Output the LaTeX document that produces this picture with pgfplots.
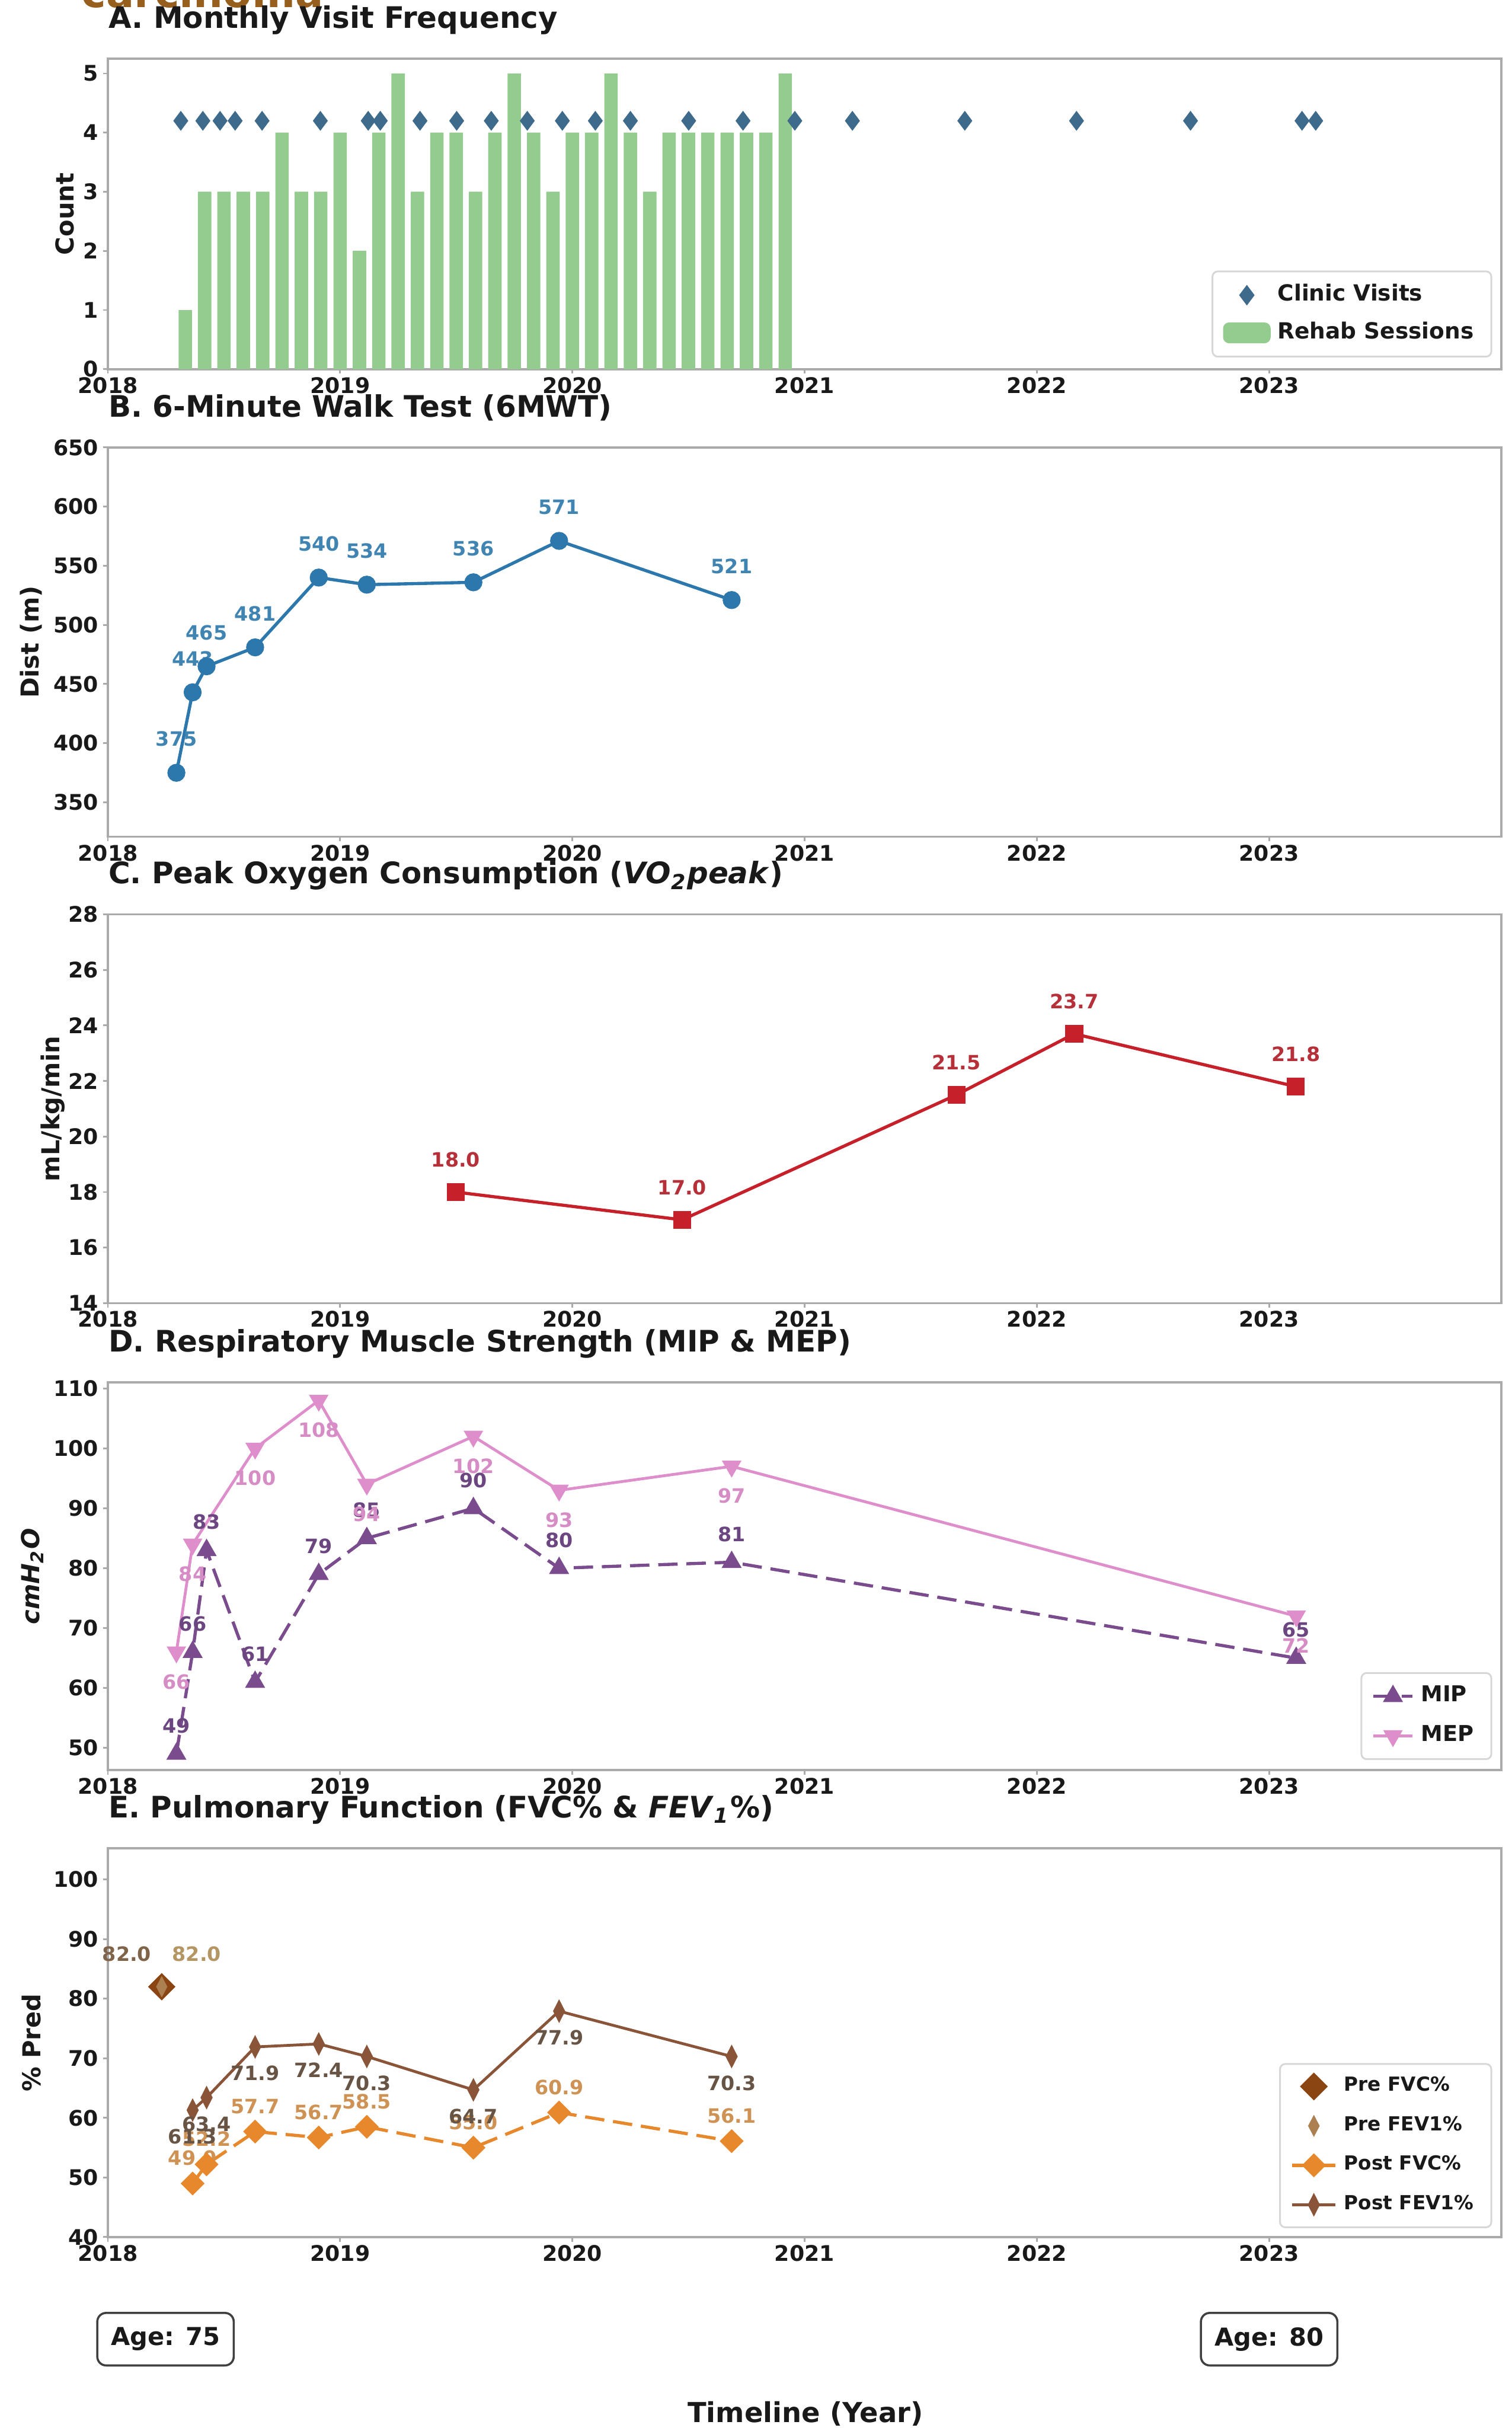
\documentclass[border=0pt]{standalone}
\usepackage{fontspec}
\setmainfont{DejaVu Sans}
\usepackage{pgfplots}
\pgfplotsset{compat=1.18}

\definecolor{spinegray}{RGB}{170,170,170}
\definecolor{legendgray}{RGB}{215,215,215}
\definecolor{inkdark}{RGB}{25,25,25}
\definecolor{headbrown}{RGB}{150,95,30}
\definecolor{barGreen}{RGB}{148,203,142}
\definecolor{visitBlue}{RGB}{62,106,140}
\definecolor{walkBlue}{RGB}{44,120,172}
\definecolor{walkLab}{RGB}{64,132,178}
\definecolor{vo2Red}{RGB}{198,32,42}
\definecolor{vo2Lab}{RGB}{182,48,58}
\definecolor{mipPurple}{RGB}{122,76,142}
\definecolor{mipLab}{RGB}{108,70,128}
\definecolor{mepPink}{RGB}{222,142,202}
\definecolor{mepLab}{RGB}{214,140,196}
\definecolor{preFVC}{RGB}{139,69,19}
\definecolor{preFEV}{RGB}{172,128,80}
\definecolor{preFVCLab}{RGB}{128,100,74}
\definecolor{preFEVLab}{RGB}{180,150,100}
\definecolor{postFVC}{RGB}{232,136,44}
\definecolor{postFVCLab}{RGB}{206,146,84}
\definecolor{postFEV}{RGB}{138,84,56}
\definecolor{postFEVLab}{RGB}{104,84,68}

\newcommand{\ticksize}{\bfseries\fontsize{6.1}{7}\selectfont}
\newcommand{\titlesize}{\bfseries\fontsize{8.4}{10}\selectfont}
\newcommand{\labelsize}{\bfseries\fontsize{7}{8.4}\selectfont}
\newcommand{\valsize}{\bfseries\fontsize{5.6}{6.7}\selectfont}

\pgfplotsset{
  /pgf/number format/assume math mode=true,
  /pgf/number format/1000 sep={},
  panel/.style={
    scale only axis, width=395.25pt,
    xmin=2018, xmax=2024, xtick={2018,2019,2020,2021,2022,2023},
    axis line style={draw=spinegray, line width=0.6pt},
    tick pos=left, tick align=outside, major tick length=1.3pt,
    tick style={draw=spinegray, line width=0.5pt},
    tick label style={font=\ticksize, text=inkdark},
    xticklabel style={inner sep=0.8pt},
    yticklabel style={inner sep=1.2pt},
    title style={at={(0,1)}, anchor=base west, yshift=2.7pt, inner sep=0pt,
                 font=\titlesize, text=inkdark},
    label style={font=\labelsize, text=inkdark},
    clip=false,
    legend cell align=left,
  },
  ylabelat/.style={ylabel style={at={([xshift=-#1]axis description cs:0,0.5)}, anchor=center}},
  legimg/.style={legend image code/.code={%
      \draw[mark repeat=2,mark phase=2,##1] plot coordinates {(0pt,0pt) (#1/2,0pt) (#1,0pt)};}},
  legbox/.style={legend style={draw=legendgray, line width=0.5pt, rounded corners=1.5pt,
      fill=white, text=inkdark, inner xsep=3pt, inner ysep=1.6pt}},
  lababove/.style={
      every node near coord/.append style={anchor=south, yshift=#1, inner sep=0pt, font=\valsize}},
  labbelow/.style={
      every node near coord/.append style={anchor=north, yshift=-#1, inner sep=0pt, font=\valsize}},
  int/.style={nodes near coords={\pgfmathprintnumber[fixed,precision=0]{\pgfplotspointmeta}}},
  dec/.style={nodes near coords={\pgfmathprintnumber[fixed,fixed zerofill,precision=1]{\pgfplotspointmeta}}},
}

\begin{document}
\begin{tikzpicture}

% cut-off heading above the panels
\node[anchor=base west, inner sep=0pt, text=headbrown,
      font=\bfseries\fontsize{11.8}{14}\selectfont] at (22.95pt,-2.1pt) {carcinoma};

% ---------------- A. Monthly visit frequency ----------------
\begin{axis}[panel, at={(30.6pt,-16.65pt)}, anchor=north west, height=88.05pt,
  ymin=0, ymax=5.25, ytick={0,1,2,3,4,5},
  title={A. Monthly Visit Frequency},
  ylabel={Count}, ylabelat=12.3pt,
  legbox,
  legend style={at={(0.9935,0.0375)}, anchor=south east,
    font=\bfseries\fontsize{6.3}{7.6}\selectfont, row sep=0.4pt}]
\addplot[ybar, bar width=3.8pt, bar shift=0pt, fill=barGreen, draw=none, forget plot]
  coordinates {
  (2018.3333,1) (2018.4167,3) (2018.5,3) (2018.5833,3) (2018.6667,3) (2018.75,4)
  (2018.8333,3) (2018.9167,3)
  (2019.0,4) (2019.0833,2) (2019.1667,4) (2019.25,5) (2019.3333,3) (2019.4167,4)
  (2019.5,4) (2019.5833,3) (2019.6667,4) (2019.75,5) (2019.8333,4) (2019.9167,3)
  (2020.0,4) (2020.0833,4) (2020.1667,5) (2020.25,4) (2020.3333,3) (2020.4167,4)
  (2020.5,4) (2020.5833,4) (2020.6667,4) (2020.75,4) (2020.8333,4) (2020.9167,5)};
\addplot[only marks, mark=diamond*, mark size=2.5pt, visitBlue, legimg=13pt]
  coordinates {
  (2018.314,4.2) (2018.409,4.2) (2018.483,4.2) (2018.548,4.2) (2018.664,4.2)
  (2018.915,4.2) (2019.121,4.2) (2019.173,4.2) (2019.344,4.2) (2019.502,4.2)
  (2019.651,4.2) (2019.806,4.2) (2019.957,4.2) (2020.099,4.2) (2020.250,4.2)
  (2020.501,4.2) (2020.735,4.2) (2020.958,4.2) (2021.206,4.2) (2021.690,4.2)
  (2022.171,4.2) (2022.662,4.2) (2023.142,4.2) (2023.201,4.2)};
\addlegendentry{Clinic Visits}
\addlegendimage{legend image code/.code={\fill[barGreen] (0pt,-2.7pt) rectangle (13pt,2.7pt);}}
\addlegendentry{Rehab Sessions}
\end{axis}

% ---------------- B. 6-minute walk test ----------------
\begin{axis}[panel, at={(30.6pt,-126.9pt)}, anchor=north west, height=110.4pt,
  ymin=321, ymax=650, ytick={350,400,...,650},
  title={B. 6-Minute Walk Test (6MWT)},
  ylabel={Dist (m)}, ylabelat=21.75pt]
\addplot[walkBlue, line width=0.9pt, mark=*, mark size=2.1pt,
  int, lababove=7pt, every node near coord/.append style={text=walkLab}]
  coordinates {(2018.295,375) (2018.365,443) (2018.425,465) (2018.634,481)
  (2018.908,540) (2019.115,534) (2019.574,536) (2019.943,571) (2020.686,521)};
\end{axis}

% ---------------- C. Peak oxygen consumption ----------------
\begin{axis}[panel, at={(30.6pt,-259.35pt)}, anchor=north west, height=110.25pt,
  ymin=14, ymax=28, ytick={14,16,...,28},
  title={C. Peak Oxygen Consumption (\textit{VO}\textsubscript{\textit{2}}\textit{peak})},
  ylabel={mL/kg/min}, ylabelat=15.6pt]
\addplot[vo2Red, line width=0.9pt, mark=square*, mark size=2.1pt,
  dec, lababove=6.6pt, every node near coord/.append style={text=vo2Lab}]
  coordinates {(2019.498,18.0) (2020.473,17.0) (2021.654,21.5) (2022.161,23.7) (2023.115,21.8)};
\end{axis}

% ---------------- D. Respiratory muscle strength ----------------
\begin{axis}[panel, at={(30.6pt,-392.1pt)}, anchor=north west, height=109.95pt,
  ymin=46.3, ymax=111, ytick={50,60,...,110},
  title={D. Respiratory Muscle Strength (MIP \& MEP)},
  ylabel={\textit{cmH\textsubscript{2}O}}, ylabelat=21.45pt,
  legbox,
  legend style={at={(0.9935,0.026)}, anchor=south east,
    font=\bfseries\fontsize{6.2}{7.4}\selectfont, row sep=1.2pt}]
\addplot[mipPurple, line width=0.9pt, dash pattern=on 5.5pt off 2.5pt,
  mark=triangle*, mark size=2.4pt, mark options={solid}, legimg=11pt,
  int, lababove=5.4pt, every node near coord/.append style={text=mipLab}]
  coordinates {(2018.295,49) (2018.365,66) (2018.425,83) (2018.634,61) (2018.908,79)
  (2019.115,85) (2019.574,90) (2019.943,80) (2020.686,81) (2023.117,65)};
\addlegendentry{MIP}
\addplot[mepPink, line width=0.8pt,
  mark=triangle*, mark size=2.4pt, mark options={rotate=180}, legimg=11pt,
  int, labbelow=5.9pt, every node near coord/.append style={text=mepLab}]
  coordinates {(2018.295,66) (2018.365,84) (2018.634,100) (2018.908,108)
  (2019.115,94) (2019.574,102) (2019.943,93) (2020.686,97) (2023.117,72)};
\addlegendentry{MEP}
\end{axis}

% ---------------- E. Pulmonary function ----------------
\begin{axis}[panel, at={(30.6pt,-524.25pt)}, anchor=north west, height=110.25pt,
  ymin=40, ymax=105.2, ytick={40,50,...,100},
  title={E. Pulmonary Function (FVC\% \& \textit{FEV}\textsubscript{\textit{1}}\%)},
  ylabel={\% Pred}, ylabelat=21.75pt,
  legbox,
  legend style={at={(0.9935,0.023)}, anchor=south east,
    font=\bfseries\fontsize{5.5}{6.6}\selectfont, row sep=1.6pt}]
\addplot[only marks, preFVC, mark=square*, mark size=2.55pt, mark options={rotate=45},
  legimg=12.3pt, dec, lababove=7pt,
  every node near coord/.append style={text=preFVCLab, xshift=-9.9pt}]
  coordinates {(2018.232,82.0)};
\addlegendentry{Pre FVC\%}
\addplot[only marks, preFEV, mark=diamond*, mark size=2.6pt, mark options={xscale=0.7},
  legimg=12.3pt, dec, lababove=7pt,
  every node near coord/.append style={text=preFEVLab, xshift=9.9pt}]
  coordinates {(2018.232,82.0)};
\addlegendentry{Pre FEV1\%}
\addplot[postFVC, line width=0.9pt, dash pattern=on 5.5pt off 2.5pt,
  mark=square*, mark size=1.95pt, mark options={solid, rotate=45}, legimg=12.3pt,
  dec, lababove=4.6pt, every node near coord/.append style={text=postFVCLab}]
  coordinates {(2018.365,49.0) (2018.425,52.2) (2018.634,57.7) (2018.908,56.7)
  (2019.115,58.5) (2019.574,55.0) (2019.943,60.9) (2020.686,56.1)};
\addlegendentry{Post FVC\%}
\addplot[postFEV, line width=0.8pt,
  mark=diamond*, mark size=2.5pt, mark options={xscale=0.68}, legimg=12.3pt,
  dec, labbelow=5pt, every node near coord/.append style={text=postFEVLab}]
  coordinates {(2018.365,61.3) (2018.425,63.4) (2018.634,71.9) (2018.908,72.4)
  (2019.115,70.3) (2019.574,64.7) (2019.943,77.9) (2020.686,70.3)};
\addlegendentry{Post FEV1\%}
\end{axis}

% age markers and shared axis caption
\tikzset{agebox/.style={draw=black!75, line width=0.6pt, rounded corners=2.5pt, fill=white,
  minimum width=38.7pt, minimum height=14.9pt, inner sep=0pt, text=inkdark,
  font=\bfseries\fontsize{7}{8.4}\selectfont}}
\node[agebox] at (46.95pt,-663.45pt) {Age: 75};
\node[agebox] at (360pt,-663.45pt) {Age: 80};
\node[anchor=base, inner sep=0pt, text=inkdark, font=\bfseries\fontsize{7.8}{9.4}\selectfont]
  at (228.45pt,-687pt) {Timeline (Year)};

\pgfresetboundingbox
\useasboundingbox (0pt,0pt) rectangle (428.85pt,-688.65pt);
\end{tikzpicture}
\end{document}
